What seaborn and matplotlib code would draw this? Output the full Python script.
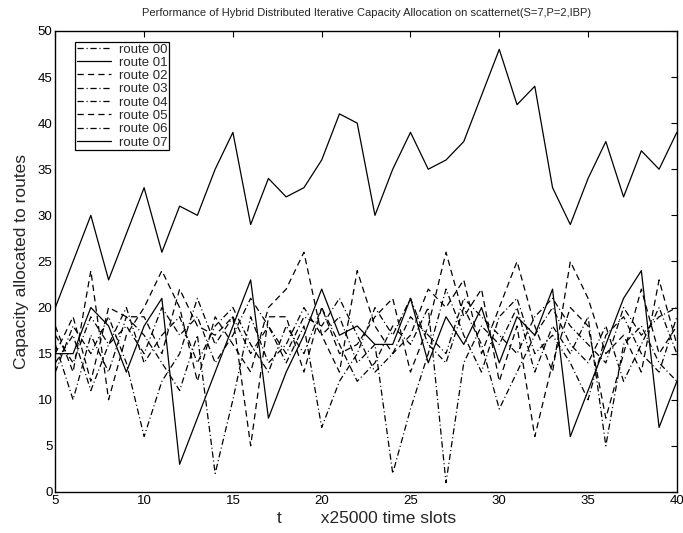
import numpy as np
import pandas as pd
import matplotlib
matplotlib.use("Agg")
import matplotlib.pyplot as plt
import seaborn as sns

# time index (units of 25000 slots)
t = list(range(5, 41))

route_00 = [17, 14, 19, 16, 18, 15, 20, 17, 19, 14, 17, 21, 18, 15, 19, 18, 21, 17,
            13, 15, 19, 17, 15, 21, 19, 17, 15, 19, 21, 18, 16, 14, 20, 17, 19, 20]
route_01 = [20, 25, 30, 23, 28, 33, 26, 31, 30, 35, 39, 29, 34, 32, 33, 36, 41, 40,
            30, 35, 39, 35, 36, 38, 43, 48, 42, 44, 33, 29, 34, 38, 32, 37, 35, 39]
route_02 = [18, 13, 24, 10, 17, 20, 24, 20, 12, 19, 16, 13, 20, 22, 26, 17, 13, 24,
            18, 15, 17, 22, 20, 23, 15, 20, 25, 18, 13, 25, 21, 15, 17, 13, 23, 16]
route_03 = [13, 18, 15, 19, 14, 6, 12, 15, 21, 16, 19, 15, 18, 14, 18, 7, 12, 15,
            20, 17, 21, 16, 14, 20, 16, 9, 13, 17, 20, 16, 14, 18, 12, 16, 20, 15]
route_04 = [16, 10, 17, 13, 19, 17, 14, 11, 17, 2, 10, 19, 14, 16, 20, 17, 19, 14,
            16, 2, 9, 15, 22, 17, 13, 19, 21, 15, 17, 14, 10, 17, 19, 15, 13, 19]
route_05 = [15, 19, 12, 20, 19, 19, 15, 22, 18, 17, 19, 5, 19, 19, 13, 20, 15, 16,
            19, 21, 13, 18, 26, 19, 22, 12, 18, 6, 14, 20, 18, 8, 15, 22, 15, 18]
route_06 = [14, 17, 11, 16, 20, 14, 17, 19, 14, 18, 20, 16, 13, 18, 15, 20, 16, 12,
            14, 18, 16, 20, 1, 14, 18, 16, 20, 13, 18, 15, 19, 5, 16, 18, 14, 12]
route_07 = [15, 15, 20, 18, 13, 18, 21, 3, 8, 13, 18, 23, 8, 13, 17, 22, 17, 18,
            16, 16, 21, 14, 19, 16, 20, 14, 19, 17, 22, 6, 11, 16, 21, 24, 7, 12]

route_names = ["route 00", "route 01", "route 02", "route 03",
               "route 04", "route 05", "route 06", "route 07"]
route_values = [route_00, route_01, route_02, route_03,
                route_04, route_05, route_06, route_07]

x_ticks = [5, 10, 15, 20, 25, 30, 35, 40]
y_ticks = [0, 5, 10, 15, 20, 25, 30, 35, 40, 45, 50]

df = pd.concat(
    [pd.DataFrame({"t": t, "capacity": v, "route": n})
     for n, v in zip(route_names, route_values)],
    ignore_index=True,
)

sns.set_theme(style="white")
plt.rcParams["font.family"] = ["Liberation Sans", "DejaVu Sans"]
plt.rcParams["lines.scale_dashes"] = False
plt.rcParams["xtick.direction"] = "in"
plt.rcParams["ytick.direction"] = "in"

dash = (0, (4.5, 3.0))
dashdot = (0, (4.5, 2.0, 0.8, 2.0))
styles = {
    "route 00": dashdot,
    "route 01": "-",
    "route 02": dash,
    "route 03": dashdot,
    "route 04": dashdot,
    "route 05": dash,
    "route 06": dashdot,
    "route 07": "-",
}

fig = plt.figure(figsize=(6.83, 5.33), dpi=100)
ax = fig.add_axes([0.081, 0.077, 0.910, 0.865])

for name in route_names:
    sns.lineplot(data=df[df["route"] == name], x="t", y="capacity",
                 ax=ax, color="black", linewidth=0.9,
                 linestyle=styles[name], label=name)

ax.set_xlim(5, 40)
ax.set_ylim(0, 50)
ax.set_xticks(x_ticks)
ax.set_yticks(y_ticks)
ax.tick_params(axis="both", labelsize=9.5, length=4, width=0.8,
               top=True, right=True, colors="black", pad=2)
for sp in ax.spines.values():
    sp.set_color("black")
    sp.set_linewidth(1.0)

ax.set_title("Performance of Hybrid Distributed Iterative Capacity Allocation "
             "on scatternet(S=7,P=2,IBP)", fontsize=8, pad=11)
ax.set_xlabel("t        x25000 time slots", fontsize=12.5, labelpad=3)
ax.set_ylabel("Capacity allocated to routes", fontsize=12.5, labelpad=6)

leg = ax.legend(loc="upper left", bbox_to_anchor=(0.032, 0.976), fontsize=9.5,
                frameon=True, fancybox=False, framealpha=1,
                handlelength=2.6, handletextpad=0.6, labelspacing=0.08,
                borderpad=0.1, borderaxespad=0.0)
leg.get_frame().set_edgecolor("black")
leg.get_frame().set_linewidth(0.9)

fig.savefig("out.png", dpi=100)
